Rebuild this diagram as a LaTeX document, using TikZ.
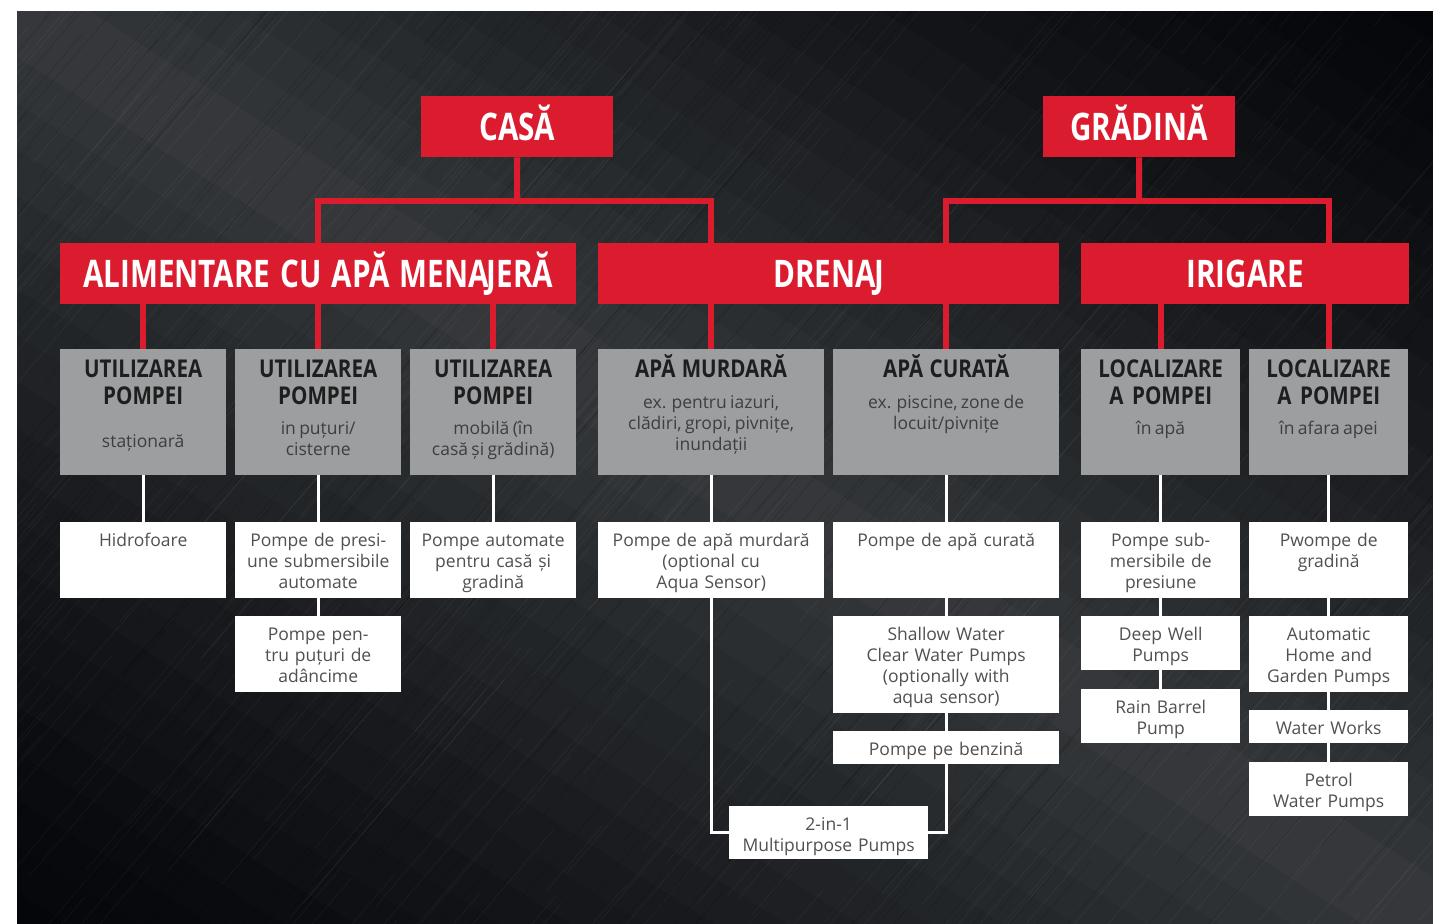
\documentclass[tikz,border=0pt]{standalone}
\usepackage{fontspec}
\setmainfont{Open Sans}
\newfontfamily\headfont[FakeStretch=0.78, WordSpace=1.3]{Open Sans}
\newfontfamily\titlefont[FakeStretch=0.84]{Open Sans}

\definecolor{boxred}{RGB}{218,28,46}
\definecolor{boxgrey}{RGB}{156,158,160}
\definecolor{titleink}{RGB}{30,30,30}
\definecolor{subink}{RGB}{62,62,62}
\definecolor{bodyink}{RGB}{80,80,80}
\definecolor{bgdark}{RGB}{5,6,9}
\definecolor{bgmid}{RGB}{54,57,60}

\newcommand{\gtitle}[1]{{\titlefont\bfseries\fontsize{24.5}{27}\selectfont\color{titleink}#1\par}}
\newcommand{\gsub}[2][9pt]{\vspace{#1}{\fontsize{17.5}{21}\selectfont\color{subink}#2\par}}

\begin{document}
\begin{tikzpicture}[
    x=1pt, y=-1pt,
    redbox/.style={%
      fill=boxred, text=white, inner sep=0pt, anchor=north west,
      minimum height=61pt, text height=27pt, text depth=0pt,
      font=\headfont\bfseries\fontsize{38}{40}\selectfont,
    },
    greybox/.style={%
      fill=boxgrey, inner sep=0pt, anchor=north west, align=center,
      text width=#1, minimum width=#1, text height=28pt, text depth=98pt,
    },
    whitebox/.style 2 args={%
      fill=white, text=bodyink, inner sep=0pt, anchor=north west, align=center,
      text width=#1, minimum width=#1, text height=24pt, text depth=#2,
      font=\fontsize{17.5}{21}\selectfont,
    },
    redline/.style={draw=boxred, line width=6pt},
    whiteline/.style={draw=white, line width=3pt},
    streak/.style={line width=0.6pt},
  ]

    % background
    \fill[white] (0,0) rectangle (1433,924);
    \useasboundingbox (0,0) rectangle (1433,924);
    \begin{scope}
      \clip (17,11) rectangle (1433,924);
      \begin{scope}[shift={(725,467)}, rotate=-32.8]
        \foreach \t in {-780,-741,...,741} {
          \pgfmathsetmacro{\p}{100*(1-abs(\t+19.5)/780)^1.3}
          \fill[bgmid!\p!bgdark] (-1300,\t) rectangle (1300,\t+40);
        }
      \end{scope}
      \pgfmathsetseed{11}
      \foreach \s in {1,...,520} {
        \pgfmathsetmacro{\sx}{-450+1900*rnd}
        \pgfmathsetmacro{\sy}{11+1000*rnd}
        \pgfmathsetmacro{\sl}{60+300*rnd}
        \draw[streak, white, opacity=0.05] (\sx,\sy) -- ++(0.65*\sl,-0.76*\sl);
        \pgfmathsetmacro{\sx}{-450+1900*rnd}
        \pgfmathsetmacro{\sy}{11+1000*rnd}
        \draw[streak, black, opacity=0.15] (\sx,\sy) -- ++(0.65*\sl,-0.76*\sl);
      }
    \end{scope}

    \node [redbox, minimum width=192pt] (casa) at (421,96) {CASĂ};
    \node [redbox, minimum width=192pt] (gradina) at (1043,96) {GRĂDINĂ};

    \node [redbox, minimum width=516pt] (alim) at (60,243) {ALIMENTARE CU APĂ MENA\kern-2pt JERĂ};
    \node [redbox, minimum width=461pt] (drenaj) at (598,243) {DRENA\kern-2pt J};
    \node [redbox, minimum width=328pt] (irigare) at (1081,243) {IRIGARE};

    \node [greybox=166pt] (util1) at (60,349) {\gtitle{UTILIZAREA\\POMPEI}\gsub[22pt]{staționară}};
    \node [greybox=166pt] (util2) at (235,349) {\gtitle{UTILIZAREA\\POMPEI}\gsub{in puțuri/\\cisterne}};
    \node [greybox=166pt] (util3) at (410,349) {\gtitle{UTILIZAREA\\POMPEI}\gsub{mobilă (în\\casă și grădină)}};
    \node [greybox=226pt] (murdara) at (598,349) {\gtitle{APĂ\hspace{0.12em} MURDARĂ}\gsub[10pt]{ex. pentru iazuri,\\clădiri, gropi, pivnițe,\\inundații}};
    \node [greybox=226pt] (curata) at (833,349) {\gtitle{APĂ\hspace{0.12em} CURATĂ}\gsub[10pt]{ex. piscine, zone de\\locuit/pivnițe}};
    \node [greybox=159pt] (inapa) at (1081,349) {\gtitle{LOCALIZARE\\A\hspace{0.22em} POMPEI}\gsub{în apă}};
    \node [greybox=159pt] (afara) at (1249,349) {\gtitle{LOCALIZARE\\A\hspace{0.22em} POMPEI}\gsub{în afara apei}};

    \node [whitebox={166pt}{52pt}] (hidro) at (60,522) {Hidrofoare};
    \node [whitebox={166pt}{52pt}] (presiune) at (235,522) {Pompe de presi-\\une submersibile\\automate};
    \node [whitebox={166pt}{52pt}] (adancime) at (235,616) {Pompe pen-\\tru puțuri de\\adâncime};
    \node [whitebox={166pt}{52pt}] (automate) at (410,522) {Pompe automate\\pentru casă și\\gradină};
    \node [whitebox={226pt}{52pt}] (murdpompe) at (598,522) {Pompe de apă murdară\\(optional cu\\Aqua Sensor)};
    \node [whitebox={226pt}{52pt}] (curpompe) at (833,522) {Pompe de apă curată};
    \node [whitebox={226pt}{73pt}] (shallow) at (833,616) {Shallow Water\\Clear Water Pumps\\(optionally with\\aqua sensor)};
    \node [whitebox={226pt}{9pt}] (benzina) at (833,731) {Pompe pe benzină};
    \node [whitebox={199pt}{29pt}] (multi) at (729,806) {2-in-1\\Multipurpose Pumps};
    \node [whitebox={159pt}{52pt}] (submers) at (1081,522) {Pompe sub-\\mersibile de\\presiune};
    \node [whitebox={159pt}{30pt}] (deepwell) at (1081,616) {Deep Well\\Pumps};
    \node [whitebox={159pt}{30pt}] (rainbarrel) at (1081,689) {Rain Barrel\\Pump};
    \node [whitebox={159pt}{52pt}] (gradpompe) at (1249,522) {Pwompe de\\gradină};
    \node [whitebox={159pt}{52pt}] (autohome) at (1249,616) {Automatic\\Home and\\Garden Pumps};
    \node [whitebox={159pt}{9pt}] (waterworks) at (1249,710) {Water Works};
    \node [whitebox={159pt}{30pt}] (petrol) at (1249,762) {Petrol\\Water Pumps};

    \coordinate (casafork) at (517,201);
    \coordinate (gradfork) at (1139,201);
    \draw [redline] (casa.south) -- (casafork);
    \draw [redline] (util2.north |- alim.north) |- (casafork) -| (murdara.north |- drenaj.north);
    \draw [redline] (gradina.south) -- (gradfork);
    \draw [redline] (curata.north |- drenaj.north) |- (gradfork) -| (afara.north |- irigare.north);

    \draw [redline] (alim.south -| util1.north) -- (util1.north);
    \draw [redline] (alim.south -| util2.north) -- (util2.north);
    \draw [redline] (alim.south -| util3.north) -- (util3.north);
    \draw [redline] (drenaj.south -| murdara.north) -- (murdara.north);
    \draw [redline] (drenaj.south -| curata.north) -- (curata.north);
    \draw [redline] (irigare.south -| inapa.north) -- (inapa.north);
    \draw [redline] (irigare.south -| afara.north) -- (afara.north);

    \draw [whiteline] (util1) -- (hidro);
    \draw [whiteline] (util2) -- (presiune) -- (adancime);
    \draw [whiteline] (util3) -- (automate);
    \draw [whiteline] (murdara) -- (murdpompe);
    \draw [whiteline] (murdpompe.south) |- (multi.west);
    \draw [whiteline] (curata) -- (curpompe) -- (shallow) -- (benzina);
    \draw [whiteline] (benzina.south) |- (multi.east);
    \draw [whiteline] (inapa) -- (submers) -- (deepwell) -- (rainbarrel);
    \draw [whiteline] (afara) -- (gradpompe) -- (autohome) -- (waterworks) -- (petrol);
\end{tikzpicture}
\end{document}
